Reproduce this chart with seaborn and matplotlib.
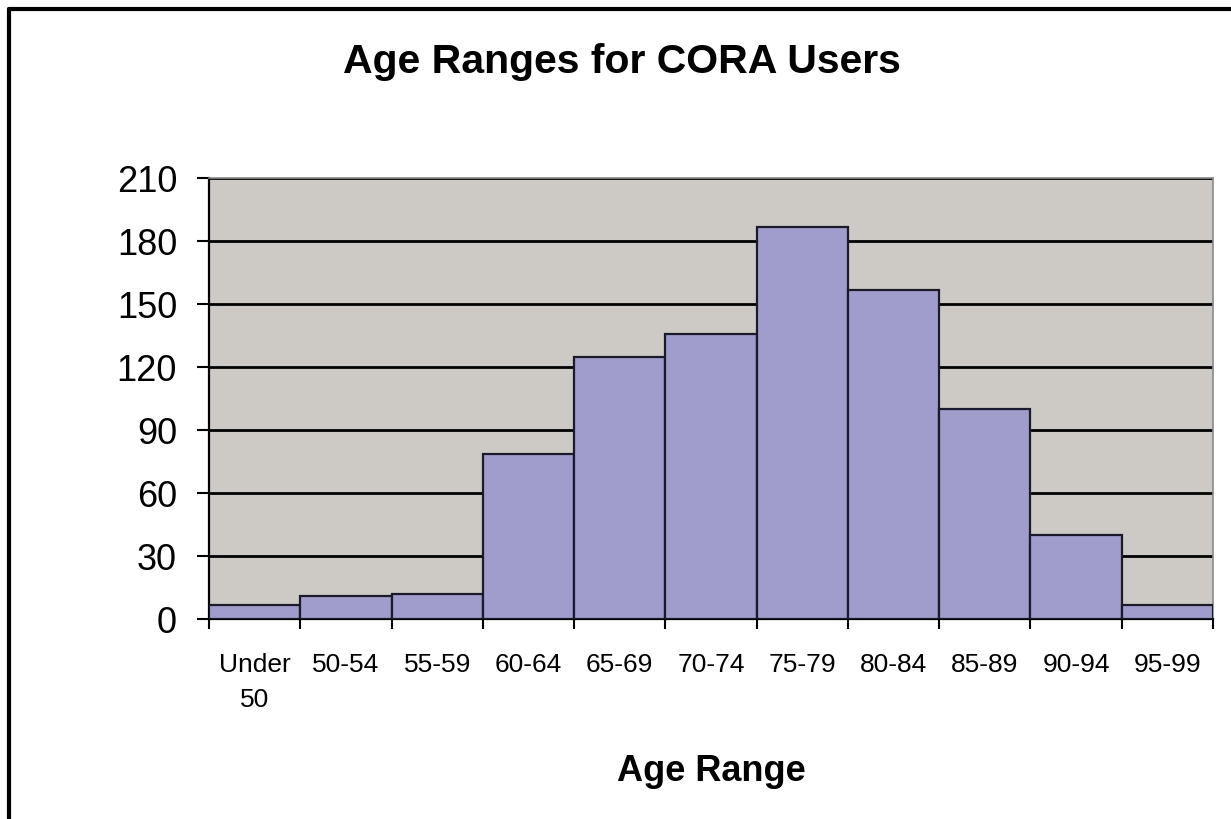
import matplotlib
matplotlib.use("Agg")
import matplotlib.pyplot as plt
from matplotlib.lines import Line2D
import seaborn as sns
import pandas as pd

# Number of users per age range
age_ranges = ["Under\n50", "50-54", "55-59", "60-64", "65-69", "70-74",
              "75-79", "80-84", "85-89", "90-94", "95-99"]
users = [7, 11, 12, 79, 125, 136, 187, 157, 100, 40, 7]
y_ticks = [0, 30, 60, 90, 120, 150, 180, 210]

df = pd.DataFrame({"Age Range": age_ranges, "Users": users})

sns.set_style("white")
plt.rcParams["font.family"] = ["Liberation Sans", "DejaVu Sans"]
plt.rcParams["text.color"] = "black"
plt.rcParams["axes.labelcolor"] = "black"
plt.rcParams["xtick.color"] = "black"
plt.rcParams["ytick.color"] = "black"

fig = plt.figure(figsize=(12.31, 8.19), dpi=100)
ax = fig.add_axes([0.1698, 0.2436, 0.9854 - 0.1698, 0.7823 - 0.2436])
ax.set_facecolor("#cdcac6")

sns.barplot(data=df, x="Age Range", y="Users", color="#a09dcc",
            saturation=1, width=1.0, edgecolor="#1a1a2a", linewidth=1.6,
            ax=ax, zorder=3)

ax.set_ylim(0, 210)
ax.set_xlim(-0.5, len(age_ranges) - 0.5)
ax.set_yticks(y_ticks)
ax.yaxis.grid(True, color="black", linewidth=2.0, zorder=0)
ax.set_axisbelow(True)
ax.tick_params(axis="y", labelsize=26, length=9, width=1.5, pad=14,
               direction="out", left=True, color="black", labelcolor="black")

# Category labels at bar centres, tick marks at bar boundaries
ax.set_xticks(range(len(age_ranges)))
ax.set_xticklabels(age_ranges, fontsize=19, linespacing=1.6, color="black")
ax.tick_params(axis="x", which="major", length=0, pad=24)
ax.set_xticks([i - 0.5 for i in range(len(age_ranges) + 1)], minor=True)
ax.tick_params(axis="x", which="minor", length=7, width=1.5,
               direction="out", bottom=True, color="black")

for lab in ax.get_xticklabels():
    lab.set_verticalalignment("top")

ax.set_xlabel("Age Range", fontsize=26, fontweight="bold", labelpad=30,
              color="black")
ax.set_ylabel("")

for side in ("left", "bottom"):
    ax.spines[side].set_color("black")
    ax.spines[side].set_linewidth(1.6)
for side in ("top", "right"):
    ax.spines[side].set_visible(True)
    ax.spines[side].set_color("#8a8a8a")
    ax.spines[side].set_linewidth(1.2)

fig.text(0.505, 0.924, "Age Ranges for CORA Users", ha="center",
         va="center", fontsize=29.5, fontweight="bold", color="black")

# Outer chart border (left and top edges)
fig.add_artist(Line2D([0.0075, 0.0075], [0.0, 0.9895], color="black",
                      linewidth=3, transform=fig.transFigure))
fig.add_artist(Line2D([0.0075, 1.0], [0.9895, 0.9895], color="black",
                      linewidth=3, transform=fig.transFigure))

fig.savefig("out.png", dpi=100)
